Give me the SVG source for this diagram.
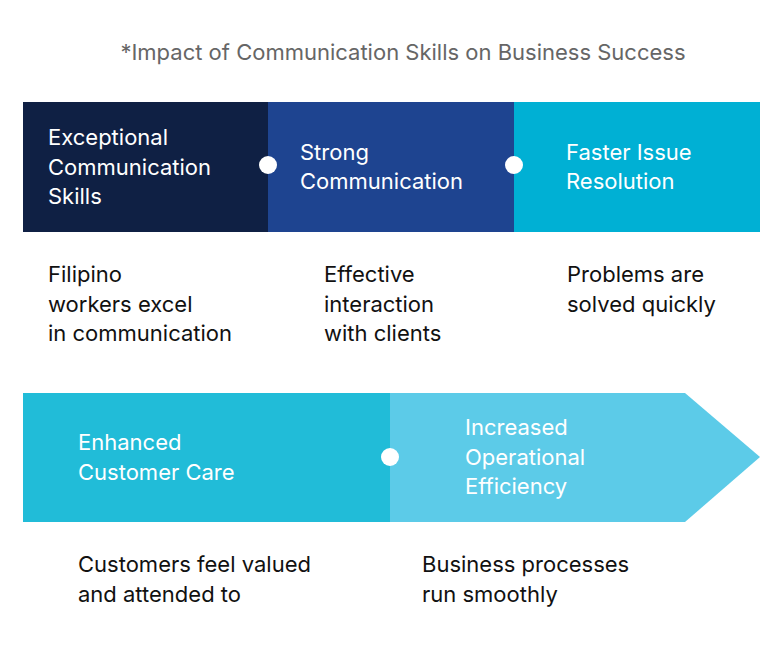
<svg xmlns="http://www.w3.org/2000/svg" width="779" height="668" viewBox="0 0 779 668">
<style>
text{font-family:Inter,"Noto Sans",sans-serif;font-size:22px}
.w{fill:#fff}.d{fill:#111}.t{fill:#666}
.dot{fill:#fff}
</style>
<rect width="779" height="668" fill="#fff"/>
<text class="t" x="403" y="60" text-anchor="middle">*Impact of Communication Skills on Business Success</text>
<g id="n1"><rect x="23" y="102" width="245" height="130" fill="#0f2044"/>
<text class="w" x="48" y="145">Exceptional</text><text class="w" x="48" y="175">Communication</text><text class="w" x="48" y="204">Skills</text></g>
<g id="n2"><rect x="268" y="102" width="246" height="130" fill="#1e4490"/>
<text class="w" x="300" y="160">Strong</text><text class="w" x="300" y="189">Communication</text></g>
<g id="n3"><rect x="514" y="102" width="246" height="130" fill="#00b0d4"/>
<text class="w" x="566" y="160">Faster Issue</text><text class="w" x="566" y="189">Resolution</text></g>
<g id="n4"><rect x="23" y="393" width="367" height="129" fill="#21bcd8"/>
<text class="w" x="78" y="450">Enhanced</text><text class="w" x="78" y="480">Customer Care</text></g>
<g id="n5"><polygon points="390,393 685,393 760,457 685,522 390,522" fill="#5ccbe8"/>
<text class="w" x="465" y="435">Increased</text><text class="w" x="465" y="465">Operational</text><text class="w" x="465" y="494">Efficiency</text></g>
<g id="connectors">
<circle class="dot" cx="268" cy="165" r="9"/><circle class="dot" cx="514" cy="165" r="9"/><circle class="dot" cx="390" cy="457" r="9"/>
</g>
<g id="desc">
<text class="d" x="48" y="282">Filipino</text><text class="d" x="48" y="312">workers excel</text><text class="d" x="48" y="341">in communication</text>
<text class="d" x="324" y="282">Effective</text><text class="d" x="324" y="312">interaction</text><text class="d" x="324" y="341">with clients</text>
<text class="d" x="567" y="282">Problems are</text><text class="d" x="567" y="312">solved quickly</text>
<text class="d" x="78" y="572">Customers feel valued</text><text class="d" x="78" y="602">and attended to</text>
<text class="d" x="422" y="572">Business processes</text><text class="d" x="422" y="602">run smoothly</text>
</g>
</svg>
